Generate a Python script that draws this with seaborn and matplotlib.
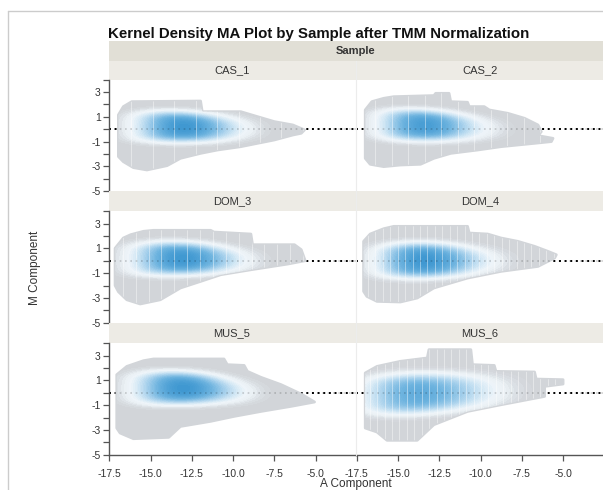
import numpy as np
import pandas as pd
import matplotlib
matplotlib.use("Agg")
import matplotlib.pyplot as plt
import seaborn as sns
from matplotlib.colors import LinearSegmentedColormap
from matplotlib.patches import Polygon
from matplotlib.lines import Line2D

# ---------------- data ----------------
samples = ["CAS_1", "CAS_2", "DOM_3", "DOM_4", "MUS_5", "MUS_6"]
x_ticks = [-17.5, -15.0, -12.5, -10.0, -7.5, -5.0]
y_ticks = [3, 1, -1, -3, -5]
y_minor = [4, 2, 0, -2, -4]

# outer outline of each density region (A, M)
cas1_outline_A = [-16.95, -16.95, -16.65, -16.14, -11.97, -11.87, -9.53, -8.52, -7.50, -6.38, -5.67,
                  -5.87, -6.38, -7.50, -8.52, -9.53, -10.95, -11.97, -13.19, -14.00, -15.22, -16.04, -16.65]
cas1_outline_M = [-2.20, 1.16, 1.83, 2.23, 2.28, 1.42, 1.42, 1.02, 0.62, 0.35, -0.05,
                  -0.32, -0.46, -0.86, -1.13, -1.40, -1.67, -1.94, -2.34, -2.93, -3.28, -3.09, -2.61]

cas2_outline_A = [-16.99, -16.99, -16.59, -15.87, -15.26, -12.83, -12.72, -11.91, -11.81, -10.79, -10.69,
                  -9.78, -9.47, -8.35, -7.34, -6.52, -6.32, -6.52, -5.61, -5.71, -6.73, -8.76, -10.18,
                  -11.81, -12.83, -13.64, -14.86, -15.87, -16.69]
cas2_outline_M = [-2.34, 1.56, 2.23, 2.50, 2.63, 2.72, 2.90, 2.90, 2.23, 2.18, 1.83,
                  1.83, 1.56, 1.29, 0.89, 0.35, -0.19, -0.51, -0.73, -0.99, -1.13, -1.40, -1.67,
                  -1.94, -2.34, -2.82, -2.88, -3.01, -2.82]

dom3_outline_A = [-17.15, -17.15, -16.65, -16.20, -15.43, -14.82, -11.36, -11.16, -8.92, -8.82, -6.28,
                  -5.87, -5.63, -6.69, -8.92, -10.75, -11.97, -13.19, -14.41, -15.63, -16.44, -16.95]
dom3_outline_M = [-2.00, 1.00, 1.83, 2.10, 2.37, 2.45, 2.45, 2.31, 2.15, 1.29, 1.29,
                  0.89, 0.00, -0.27, -0.73, -1.13, -1.67, -2.20, -3.15, -3.49, -3.15, -2.50]

dom4_outline_A = [-17.09, -17.09, -16.69, -15.87, -15.26, -10.79, -10.69, -9.57, -8.76, -7.74, -6.73,
                  -5.91, -5.41, -5.51, -6.52, -8.76, -10.79, -12.83, -13.84, -14.86, -16.28, -16.89]
dom4_outline_M = [-2.47, 1.56, 2.15, 2.58, 2.77, 2.77, 2.23, 2.15, 1.83, 1.56, 1.16,
                  0.75, 0.48, 0.22, -0.46, -0.86, -1.40, -2.20, -3.01, -3.33, -3.28, -2.88]

mus5_outline_A = [-17.05, -17.05, -16.44, -15.43, -14.82, -10.55, -10.35, -9.33, -9.13, -8.31, -7.09,
                  -5.87, -5.06, -6.48, -8.31, -9.94, -11.36, -13.19, -13.90, -16.04, -16.85]
mus5_outline_M = [-2.85, 1.45, 2.12, 2.58, 2.72, 2.72, 2.26, 2.20, 1.72, 1.24, 0.65,
                  -0.11, -0.75, -1.10, -1.51, -1.91, -2.31, -2.72, -3.60, -3.71, -3.25]

mus6_outline_A = [-16.99, -16.99, -16.28, -14.86, -13.23, -13.13, -10.59, -10.49, -9.17, -9.07, -6.73,
                  -6.63, -5.00, -5.00, -6.12, -6.12, -8.76, -10.79, -12.83, -13.84, -15.67, -16.28]
mus6_outline_M = [-2.85, 1.59, 2.12, 2.53, 2.80, 3.47, 3.47, 2.26, 2.20, 1.72, 1.67,
                  1.10, 1.05, 0.70, 0.51, -0.30, -0.97, -1.51, -2.58, -3.84, -3.84, -3.17]

# ridge of the dense core: position, local M centre, half height, relative weight
cas1_ridge_A = [-16.0, -15.0, -14.0, -13.0, -12.0, -11.0, -10.0, -9.0]
cas1_ridge_M = [0.10, 0.20, 0.25, 0.20, 0.15, 0.10, 0.05, 0.00]
cas1_ridge_d = [0.80, 0.80, 0.75, 0.70, 0.65, 0.60, 0.50, 0.40]
cas1_ridge_w = [0.20, 0.50, 0.90, 1.00, 0.72, 0.45, 0.25, 0.10]

cas2_ridge_A = [-16.0, -15.0, -14.0, -13.0, -12.0, -11.0, -10.0, -9.0]
cas2_ridge_M = [0.30, 0.35, 0.35, 0.30, 0.25, 0.15, 0.10, 0.00]
cas2_ridge_d = [0.80, 0.80, 0.75, 0.70, 0.65, 0.60, 0.50, 0.40]
cas2_ridge_w = [0.25, 0.60, 1.00, 0.90, 0.58, 0.34, 0.18, 0.08]

dom3_ridge_A = [-16.0, -15.0, -14.0, -13.0, -12.0, -11.0, -10.0, -9.0]
dom3_ridge_M = [0.00, 0.15, 0.20, 0.20, 0.15, 0.10, 0.05, 0.00]
dom3_ridge_d = [0.85, 0.85, 0.80, 0.75, 0.70, 0.60, 0.50, 0.40]
dom3_ridge_w = [0.25, 0.60, 0.90, 1.00, 0.72, 0.45, 0.24, 0.10]

dom4_ridge_A = [-16.0, -15.0, -14.0, -13.0, -12.0, -11.0, -10.0, -9.0]
dom4_ridge_M = [-0.10, 0.00, 0.05, 0.05, 0.00, 0.00, 0.00, -0.05]
dom4_ridge_d = [0.85, 0.85, 0.85, 0.80, 0.75, 0.65, 0.55, 0.45]
dom4_ridge_w = [0.25, 0.65, 1.00, 0.90, 0.62, 0.40, 0.22, 0.11]

mus5_ridge_A = [-16.0, -15.0, -14.0, -13.0, -12.0, -11.0, -10.0, -9.0]
mus5_ridge_M = [0.20, 0.35, 0.40, 0.40, 0.35, 0.25, 0.10, 0.00]
mus5_ridge_d = [0.85, 0.85, 0.80, 0.75, 0.70, 0.60, 0.50, 0.40]
mus5_ridge_w = [0.20, 0.55, 0.90, 1.00, 0.72, 0.45, 0.24, 0.10]

mus6_ridge_A = [-16.5, -15.5, -14.5, -13.5, -12.5, -11.5, -10.5, -9.5, -8.5]
mus6_ridge_M = [-0.20, -0.15, -0.10, -0.05, 0.00, 0.05, 0.10, 0.10, 0.10]
mus6_ridge_d = [1.00, 1.00, 1.00, 0.95, 0.90, 0.85, 0.80, 0.70, 0.60]
mus6_ridge_w = [0.45, 0.75, 1.00, 0.90, 0.75, 0.55, 0.40, 0.25, 0.12]

outlines = {
    "CAS_1": (cas1_outline_A, cas1_outline_M), "CAS_2": (cas2_outline_A, cas2_outline_M),
    "DOM_3": (dom3_outline_A, dom3_outline_M), "DOM_4": (dom4_outline_A, dom4_outline_M),
    "MUS_5": (mus5_outline_A, mus5_outline_M), "MUS_6": (mus6_outline_A, mus6_outline_M),
}
ridges = {
    "CAS_1": (cas1_ridge_A, cas1_ridge_M, cas1_ridge_d, cas1_ridge_w),
    "CAS_2": (cas2_ridge_A, cas2_ridge_M, cas2_ridge_d, cas2_ridge_w),
    "DOM_3": (dom3_ridge_A, dom3_ridge_M, dom3_ridge_d, dom3_ridge_w),
    "DOM_4": (dom4_ridge_A, dom4_ridge_M, dom4_ridge_d, dom4_ridge_w),
    "MUS_5": (mus5_ridge_A, mus5_ridge_M, mus5_ridge_d, mus5_ridge_w),
    "MUS_6": (mus6_ridge_A, mus6_ridge_M, mus6_ridge_d, mus6_ridge_w),
}
# rendering style per panel: peak colour strength and spacing of the white render stripes
core_strength = {"CAS_1": 1.0, "CAS_2": 0.95, "DOM_3": 1.0, "DOM_4": 1.0, "MUS_5": 1.0, "MUS_6": 0.82}
stripe_step = {"CAS_1": 1.3, "CAS_2": 1.0, "DOM_3": 0.78, "DOM_4": 0.45, "MUS_5": None, "MUS_6": 0.45}

# ---------------- style ----------------
sns.set_theme(style="white")
plt.rcParams["font.family"] = ["Liberation Sans", "DejaVu Sans"]
plt.rcParams["axes.unicode_minus"] = False

GRAY = "#d2d5d9"
base_cmap = LinearSegmentedColormap.from_list(
    "jmp", [(0.00, GRAY), (0.03, GRAY), (0.10, "#dadfe4"), (0.18, "#eaf0f4"), (0.26, "#eef4f9"),
            (0.38, "#d6e9f5"), (0.55, "#a8d1ec"), (0.75, "#6fb4df"), (1.00, "#3f98d1")])

W, H = 603, 490
fig = plt.figure(figsize=(W / 100, H / 100), dpi=100)
fig.patch.set_facecolor("white")


def rect(x0, y0, x1, y1):
    return [x0 / W, 1 - y1 / H, (x1 - x0) / W, (y1 - y0) / H]


col_x = [(108.5, 356.0), (356.0, 603.5)]
row_y = [(79.7, 191.3), (211.1, 322.7), (343.1, 454.7)]
strip_y = [(60.7, 79.7), (191.3, 211.1), (322.7, 343.1)]
XLIM = (-17.55, -2.55)
YLIM = (-5, 4)
TXT = "#333333"
AX = "#555555"

# frame
fig.add_artist(Line2D([8 / W, 1], [1 - 11 / H] * 2, color="#cccccc", lw=1))
fig.add_artist(Line2D([8 / W] * 2, [0, 1 - 11 / H], color="#cccccc", lw=1))

# title
fig.text(108 / W, 1 - 34 / H, "Kernel Density MA Plot by Sample after TMM Normalization",
         ha="left", va="center", fontsize=10.8, fontweight="bold", color="#111111")

# "Sample" header strip
sax = fig.add_axes(rect(108.5, 40.7, 603.5, 60.7))
sax.set_facecolor("#e1dfd6")
sax.set_xticks([]); sax.set_yticks([])
for s in sax.spines.values():
    s.set_visible(False)
sax.text(0.5, 0.5, "Sample", transform=sax.transAxes, ha="center", va="center",
         fontsize=8, fontweight="bold", color=TXT)

for i, name in enumerate(samples):
    r, c = divmod(i, 2)
    x0, x1 = col_x[c]
    # strip
    st = fig.add_axes(rect(x0 + (0.5 if c == 1 else 0), strip_y[r][0], x1 - (0.5 if c == 0 else 0), strip_y[r][1]))
    st.set_facecolor("#edebe5")
    st.set_xticks([]); st.set_yticks([])
    for s in st.spines.values():
        s.set_visible(False)
    st.text(0.5, 0.5, name, transform=st.transAxes, ha="center", va="center",
            fontsize=8, color=TXT)

    ax = fig.add_axes(rect(x0, row_y[r][0], x1, row_y[r][1]))
    ax.set_facecolor("white")
    ax.set_xlim(*XLIM)
    ax.set_ylim(*YLIM)

    # reference line at M = 0
    ax.axhline(0, color="black", lw=1.4, ls=(0, (1, 1.9)), zorder=1)

    oa, om = outlines[name]
    poly = Polygon(np.column_stack([oa, om]), closed=True, facecolor=GRAY, edgecolor=GRAY,
                   lw=2.0, joinstyle="round", zorder=2)
    ax.add_patch(poly)

    ra, rm, rd, rw = ridges[name]
    rows = []
    for a, m, d, w in zip(ra, rm, rd, rw):
        rows += [(a, m - d, w), (a, m, w), (a, m + d, w)]
    df = pd.DataFrame(rows, columns=["A", "M", "w"])

    s_ = core_strength[name]
    cmap = LinearSegmentedColormap.from_list(name, base_cmap(np.linspace(0, s_, 256)))
    before = len(ax.collections)
    sns.kdeplot(data=df, x="A", y="M", weights="w", fill=True, levels=40, thresh=0.02,
                cmap=cmap, bw_method=0.75, gridsize=180, ax=ax, zorder=3)
    for coll in ax.collections[before:]:
        coll.set_clip_path(poly)
    ax.set_xlabel(""); ax.set_ylabel("")

    # thin white render stripes seen in the reference
    step = stripe_step[name]
    if step:
        xs = np.arange(min(oa) + step * 0.6, max(oa), step)
        vl = ax.vlines(xs, -5, 4, color="white", lw=0.6, alpha=0.5, zorder=4)
        vl.set_clip_path(poly)

    # faint dots of the reference line showing through the density
    ax.axhline(0, color="black", lw=1.2, ls=(0, (1, 2.2)), alpha=0.18, zorder=5)
    ax.set_xlim(*XLIM)
    ax.set_ylim(*YLIM)

    for s in ax.spines.values():
        s.set_visible(False)
    if c == 0:
        ax.spines["left"].set_visible(True)
        ax.spines["left"].set_color(AX)
        ax.spines["left"].set_linewidth(1.0)
        ax.set_yticks(y_ticks)
        ax.set_yticklabels([str(v) for v in y_ticks])
        ax.set_yticks(y_minor, minor=True)
        ax.tick_params(axis="y", which="both", left=True, direction="out", length=4,
                       width=0.9, color=AX, labelsize=7.5, labelcolor=TXT, pad=1.5)
    else:
        ax.set_yticks([])
    if r == 2:
        ax.spines["bottom"].set_visible(True)
        ax.spines["bottom"].set_color(AX)
        ax.spines["bottom"].set_linewidth(1.0)
        ax.set_xticks(x_ticks)
        ax.set_xticklabels([f"{v:.1f}" for v in x_ticks])
        ax.tick_params(axis="x", bottom=True, direction="out", length=4.5, width=0.9,
                       color=AX, labelsize=7.5, labelcolor=TXT, pad=6)
    else:
        ax.set_xticks([])
    ax.grid(False)

# faint column separator
fig.add_artist(Line2D([356 / W] * 2, [1 - 454.7 / H, 1 - 60.7 / H], color="#ececec", lw=0.8))

# axis labels
fig.text(35 / W, 1 - 268 / H, "M Component", rotation=90, ha="center", va="center",
         fontsize=8.5, color=TXT)
fig.text(356 / W, 1 - 489.8 / H, "A Component", ha="center", va="bottom", fontsize=8.5, color=TXT)

fig.savefig("out.png", dpi=100, facecolor="white")
